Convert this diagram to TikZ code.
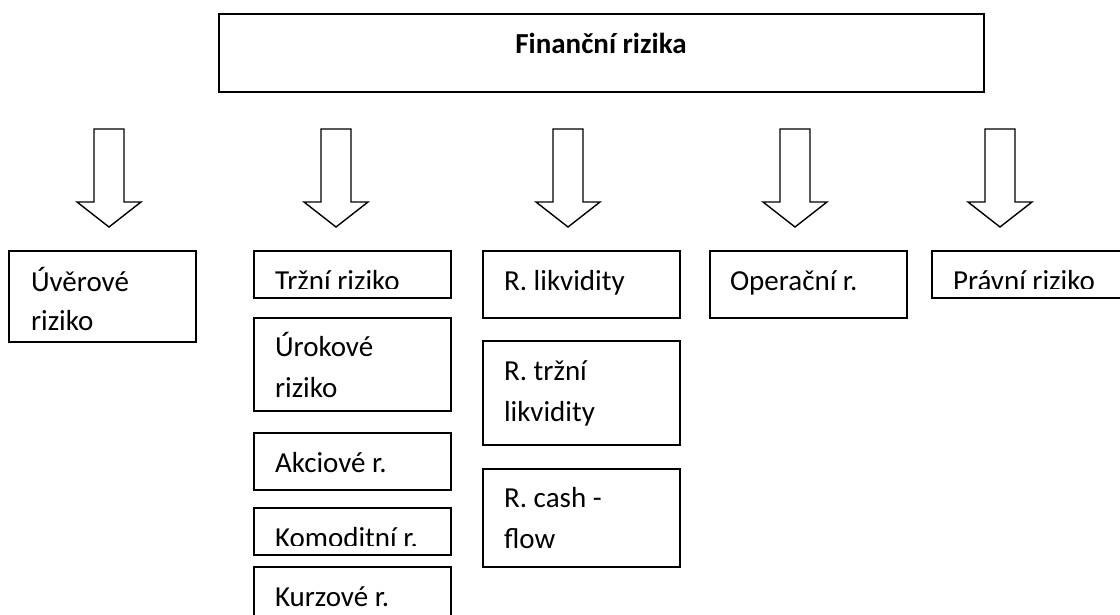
\documentclass[tikz,border=0pt]{standalone}
\usepackage{fontspec}
\setmainfont{Carlito}
\begin{document}
\begin{tikzpicture}[x=1pt,y=-1pt,
  box/.style={draw=black, line width=1.5pt, rectangle, inner sep=0pt, outer sep=0pt, anchor=north west},
  txt/.style={inner sep=0pt, outer sep=0pt, anchor=base west, font=\fontsize{29}{35}\selectfont},
  blockarr/.style={draw=black, line width=1.4pt, line join=miter, fill=white}]
\clip (0,0) rectangle (1120,614);
\fill[white] (0,0) rectangle (1120,614);
% top box
\node[box, minimum width=765pt, minimum height=78pt] (top) at (219,14) {};
\node[inner sep=0pt, anchor=base, font=\fontsize{29}{35}\selectfont\bfseries] (toptxt) at (601,53) {Finanční rizika};
% arrows
\foreach \c in {109,336,568,795,1000}{
  \draw[blockarr] (\c-15,129) -- (\c+15,129) -- (\c+15,202) -- (\c+32,202) -- (\c,227) -- (\c-32,202) -- (\c-15,202) -- cycle;
}
% boxes
\node[box, minimum width=187pt, minimum height=91pt] (uver) at (9,251) {};
\node[box, minimum width=197pt, minimum height=47pt] (trzni) at (254,251) {};
\node[box, minimum width=197pt, minimum height=93pt] (urok) at (254,318) {};
\node[box, minimum width=197pt, minimum height=57pt] (akc) at (254,433) {};
\node[box, minimum width=197pt, minimum height=47pt] (komod) at (254,508) {};
\node[box, minimum width=197pt, minimum height=70pt] (kurz) at (254,567) {};
\node[box, minimum width=197pt, minimum height=67pt] (likv) at (483,251) {};
\node[box, minimum width=197pt, minimum height=104pt] (trzlikv) at (483,341) {};
\node[box, minimum width=197pt, minimum height=98pt] (cash) at (483,469) {};
\node[box, minimum width=197pt, minimum height=67pt] (oper) at (710,251) {};
\node[box, minimum width=200pt, minimum height=47pt] (pravni) at (932,251) {};
% texts
\node[txt] (t-uver1) at (31,291) {Úvěrové};
\node[txt] (t-uver2) at (31,330) {riziko};
\begin{scope}
  \clip (trzni.north west) rectangle ([yshift=10pt]trzni.south east);
  \node[txt] (t-trzni) at (275,290) {Tržní riziko};
\end{scope}
\node[txt] (t-urok1) at (275,356) {Úrokové};
\node[txt] (t-urok2) at (275,397) {riziko};
\node[txt] (t-akc) at (275,472) {Akciové r.};
\begin{scope}
  \clip (komod.north west) rectangle ([yshift=10pt]komod.south east);
  \node[txt] (t-komod) at (275,547) {Komoditní r.};
\end{scope}
\node[txt] (t-kurz) at (275,606) {Kurzové r.};
\node[txt] (t-likv) at (504,290) {R. likvidity};
\node[txt] (t-trzlikv1) at (504,380) {R. tržní};
\node[txt] (t-trzlikv2) at (504,421) {likvidity};
\node[txt] (t-cash1) at (504,507) {R. cash -};
\node[txt] (t-cash2) at (504,548) {flow};
\node[txt] (t-oper) at (730,290) {Operační r.};
\begin{scope}
  \clip (pravni.north west) rectangle ([yshift=10pt]pravni.south east);
  \node[txt] (t-pravni) at (953,290) {Právní riziko};
\end{scope}
\end{tikzpicture}
\end{document}
